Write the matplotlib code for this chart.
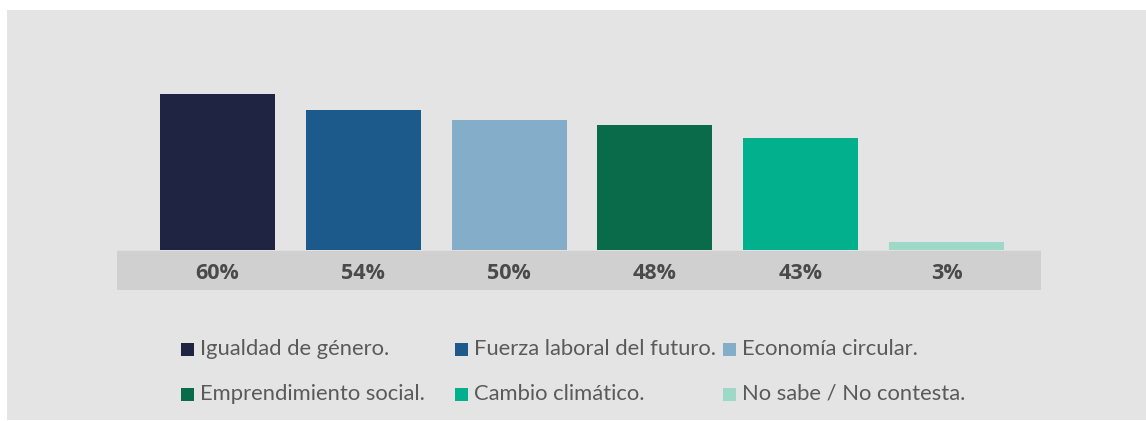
import matplotlib.pyplot as plt
from matplotlib.patches import Rectangle

W, H = 1146, 421

categories = ["Igualdad de género.", "Fuerza laboral del futuro.", "Economía circular.",
              "Emprendimiento social.", "Cambio climático.", "No sabe / No contesta."]
values = [60, 54, 50, 48, 43, 3]
colors = ["#1f2442", "#1b5a8a", "#84adc9", "#0a6b4b", "#03b08d", "#9ed8c6"]


def fx(px):
    return px / W


def fy(py):
    return 1 - py / H


fig = plt.figure(figsize=(W / 100, H / 100), dpi=100, facecolor="white")

# grey panel behind everything
fig.patches.append(Rectangle((fx(7), fy(420)), fx(1146) - fx(7), fy(10) - fy(420),
                             transform=fig.transFigure, facecolor="#e4e4e4",
                             edgecolor="none", zorder=-5))

# bars axes: bottom of grey label band at y=290, top of 60% bar at y=94
band = 40 / 2.6
ax = fig.add_axes([fx(117), fy(290), fx(1041) - fx(117), fy(94) - fy(290)])
ax.set_zorder(2)
ax.set_facecolor("none")
ax.set_xlim(-0.688, len(values) - 1 + 0.647)
ax.set_ylim(-band, 60)
ax.axhspan(-band, -0.3, color="#d0d0d0", zorder=1)
x = range(len(values))
ax.bar(x, values, width=0.788, color=colors, zorder=2)
for i, v in zip(x, values):
    ax.text(i, -band / 2 - 1.5, f"{v}%", ha="center", va="center",
            fontsize=15.5, fontweight="bold", color="#4a4a4a", family="Open Sans")
ax.axis("off")

# legend, laid out by hand in two rows of three
col_x = [181, 455, 723]
row_y = [349, 394]
for k, (name, c) in enumerate(zip(categories, colors)):
    px = col_x[k % 3]
    py = row_y[k // 3]
    fig.patches.append(Rectangle((fx(px), fy(py + 7)), fx(13), 13 / H,
                                 transform=fig.transFigure, facecolor=c,
                                 edgecolor="none", zorder=3))
    fig.text(fx(px + 19), fy(py), name, ha="left", va="center",
             fontsize=15.8, color="#5a5a5a", family="Lato")

fig.savefig("out.png", dpi=100, facecolor="white")
